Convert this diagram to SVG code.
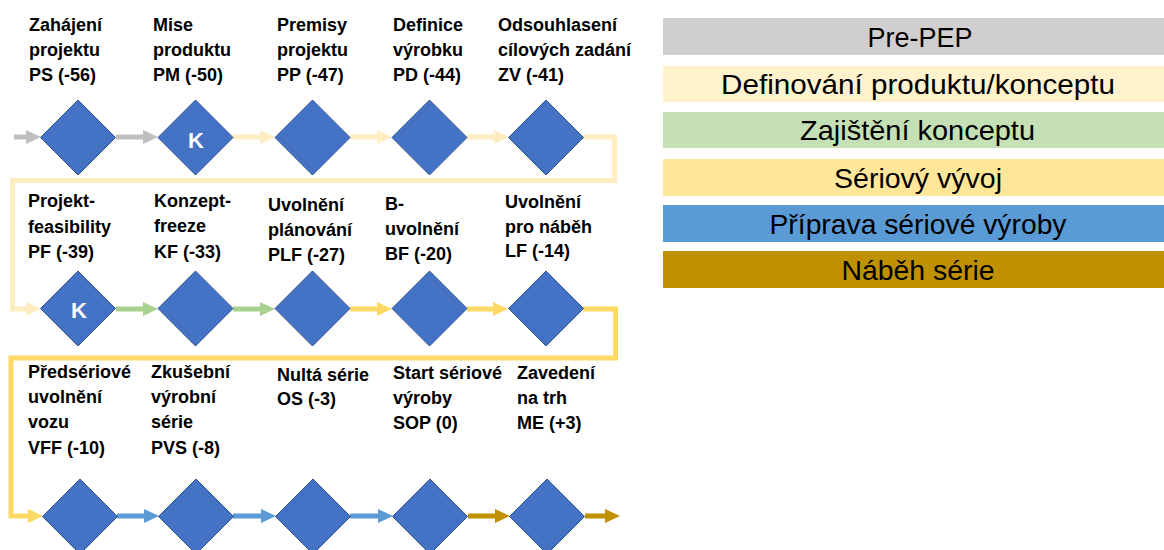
<svg xmlns="http://www.w3.org/2000/svg" width="1164" height="550" viewBox="0 0 1164 550">
<style>
.d{fill:#4472C4;stroke:#2F528F;stroke-width:1}
.lb{font-family:"Liberation Sans",Arial,sans-serif;font-weight:bold;font-size:18px;fill:#000}
.k{font-family:"Liberation Sans",Arial,sans-serif;font-weight:bold;font-size:22px;fill:#fff;text-anchor:middle}
.c{fill:none;stroke-width:5;stroke-linejoin:miter}
.lg{font-family:"Liberation Sans",Arial,sans-serif;font-size:28px;fill:#000;text-anchor:middle}
</style>
<defs>
<marker id="mGray" viewBox="0 0 15 14" refX="7" refY="7" markerWidth="15" markerHeight="14" markerUnits="userSpaceOnUse" orient="auto"><path d="M0,0 L15,7 L0,14 z" fill="#BFBFBF"/></marker>
<marker id="mLy" viewBox="0 0 15 14" refX="7" refY="7" markerWidth="15" markerHeight="14" markerUnits="userSpaceOnUse" orient="auto"><path d="M0,0 L15,7 L0,14 z" fill="#FFEDC2"/></marker>
<marker id="mGreen" viewBox="0 0 15 14" refX="7" refY="7" markerWidth="15" markerHeight="14" markerUnits="userSpaceOnUse" orient="auto"><path d="M0,0 L15,7 L0,14 z" fill="#A9D18E"/></marker>
<marker id="mYel" viewBox="0 0 15 14" refX="7" refY="7" markerWidth="15" markerHeight="14" markerUnits="userSpaceOnUse" orient="auto"><path d="M0,0 L15,7 L0,14 z" fill="#FFD966"/></marker>
<marker id="mBlue" viewBox="0 0 15 14" refX="7" refY="7" markerWidth="15" markerHeight="14" markerUnits="userSpaceOnUse" orient="auto"><path d="M0,0 L15,7 L0,14 z" fill="#5B9BD5"/></marker>
<marker id="mGold" viewBox="0 0 15 14" refX="7" refY="7" markerWidth="15" markerHeight="14" markerUnits="userSpaceOnUse" orient="auto"><path d="M0,0 L15,7 L0,14 z" fill="#BF9000"/></marker>
</defs>
<rect width="1164" height="550" fill="#fff"/>

<g id="connectors">
<path class="c" stroke="#BFBFBF" marker-end="url(#mGray)" d="M14,137 H33"/>
<path class="c" stroke="#BFBFBF" marker-end="url(#mGray)" d="M116,137 H150"/>
<path class="c" stroke="#FFEDC2" marker-end="url(#mLy)" d="M233,137 H267"/>
<path class="c" stroke="#FFEDC2" marker-end="url(#mLy)" d="M350,137 H384"/>
<path class="c" stroke="#FFEDC2" marker-end="url(#mLy)" d="M467,137 H501"/>
<path class="c" stroke="#FFEDC2" marker-end="url(#mLy)" d="M583,137 H614.5 V180.5 H12.5 V309 H33"/>
<path class="c" stroke="#A9D18E" marker-end="url(#mGreen)" d="M116,309 H150"/>
<path class="c" stroke="#A9D18E" marker-end="url(#mGreen)" d="M233,309 H267"/>
<path class="c" stroke="#FFD966" marker-end="url(#mYel)" d="M350,309 H384"/>
<path class="c" stroke="#FFD966" marker-end="url(#mYel)" d="M467,309 H500"/>
<path class="c" stroke="#FFD966" marker-end="url(#mYel)" d="M583,309 H615.5 V358 H11 V516 H35"/>
<path class="c" stroke="#5B9BD5" marker-end="url(#mBlue)" d="M117,516 H151"/>
<path class="c" stroke="#5B9BD5" marker-end="url(#mBlue)" d="M233,516 H268"/>
<path class="c" stroke="#5B9BD5" marker-end="url(#mBlue)" d="M350,516 H385"/>
<path class="c" stroke="#BF9000" marker-end="url(#mGold)" d="M468,516 H502"/>
<path class="c" stroke="#BF9000" marker-end="url(#mGold)" d="M585,516 H612"/>
</g>

<g id="ps"><path class="d" d="M78,100 L115.5,137.5 L78,175 L40.5,137.5 z"/>
<text class="lb" x="29"><tspan x="29" y="31">Zahájení</tspan><tspan x="29" y="56">projektu</tspan><tspan x="29" y="81">PS (-56)</tspan></text></g>
<g id="pm"><path class="d" d="M195.5,100 L233,137.5 L195.5,175 L158,137.5 z"/>
<text class="k" x="196" y="148">K</text>
<text class="lb"><tspan x="153" y="31">Mise</tspan><tspan x="153" y="56">produktu</tspan><tspan x="153" y="81">PM (-50)</tspan></text></g>
<g id="pp"><path class="d" d="M312.5,100 L350,137.5 L312.5,175 L275,137.5 z"/>
<text class="lb"><tspan x="277" y="31">Premisy</tspan><tspan x="277" y="56">projektu</tspan><tspan x="277" y="81">PP (-47)</tspan></text></g>
<g id="pd"><path class="d" d="M429.5,100 L467,137.5 L429.5,175 L392,137.5 z"/>
<text class="lb"><tspan x="393" y="31">Definice</tspan><tspan x="393" y="56">výrobku</tspan><tspan x="393" y="81">PD (-44)</tspan></text></g>
<g id="zv"><path class="d" d="M546,100 L583.5,137.5 L546,175 L508.5,137.5 z"/>
<text class="lb"><tspan x="498" y="31">Odsouhlasení</tspan><tspan x="498" y="56">cílových zadání</tspan><tspan x="498" y="81">ZV (-41)</tspan></text></g>

<g id="pf"><path class="d" d="M78,271 L115.5,308.5 L78,346 L40.5,308.5 z"/>
<text class="k" x="79" y="318">K</text>
<text class="lb"><tspan x="28" y="207">Projekt-</tspan><tspan x="28" y="233">feasibility</tspan><tspan x="28" y="258">PF (-39)</tspan></text></g>
<g id="kf"><path class="d" d="M195.5,271 L233,308.5 L195.5,346 L158,308.5 z"/>
<text class="lb"><tspan x="154" y="207">Konzept-</tspan><tspan x="154" y="232">freeze</tspan><tspan x="154" y="258">KF (-33)</tspan></text></g>
<g id="plf"><path class="d" d="M312.5,271 L350,308.5 L312.5,346 L275,308.5 z"/>
<text class="lb"><tspan x="268" y="211">Uvolnění</tspan><tspan x="268" y="236">plánování</tspan><tspan x="268" y="261">PLF (-27)</tspan></text></g>
<g id="bf"><path class="d" d="M429.5,271 L467,308.5 L429.5,346 L392,308.5 z"/>
<text class="lb"><tspan x="385" y="210">B-</tspan><tspan x="385" y="235">uvolnění</tspan><tspan x="385" y="260">BF (-20)</tspan></text></g>
<g id="lf"><path class="d" d="M546,271 L583.5,308.5 L546,346 L508.5,308.5 z"/>
<text class="lb"><tspan x="505" y="208">Uvolnění</tspan><tspan x="505" y="233">pro náběh</tspan><tspan x="505" y="257">LF (-14)</tspan></text></g>

<g id="vff"><path class="d" d="M80,479 L117.5,516.5 L80,554 L42.5,516.5 z"/>
<text class="lb"><tspan x="28" y="378">Předsériové</tspan><tspan x="28" y="403">uvolnění</tspan><tspan x="28" y="428">vozu</tspan><tspan x="28" y="454">VFF (-10)</tspan></text></g>
<g id="pvs"><path class="d" d="M196,479 L233.5,516.5 L196,554 L158.5,516.5 z"/>
<text class="lb"><tspan x="151" y="378">Zkušební</tspan><tspan x="151" y="403">výrobní</tspan><tspan x="151" y="428">série</tspan><tspan x="151" y="454">PVS (-8)</tspan></text></g>
<g id="os"><path class="d" d="M313,479 L350.5,516.5 L313,554 L275.5,516.5 z"/>
<text class="lb"><tspan x="277" y="381">Nultá série</tspan><tspan x="277" y="405">OS (-3)</tspan></text></g>
<g id="sop"><path class="d" d="M430,479 L467.5,516.5 L430,554 L392.5,516.5 z"/>
<text class="lb"><tspan x="393" y="379">Start sériové</tspan><tspan x="393" y="404">výroby</tspan><tspan x="393" y="429">SOP (0)</tspan></text></g>
<g id="me"><path class="d" d="M547,479 L584.5,516.5 L547,554 L509.5,516.5 z"/>
<text class="lb"><tspan x="517" y="379">Zavedení</tspan><tspan x="517" y="404">na trh</tspan><tspan x="517" y="429">ME (+3)</tspan></text></g>

<g id="legend">
<g id="leg-prepep"><rect x="663" y="18" width="501" height="37" fill="#D0CECE"/><text class="lg" x="920" y="46.5" textLength="105" lengthAdjust="spacingAndGlyphs">Pre-PEP</text></g>
<g id="leg-def"><rect x="663" y="66" width="501" height="36" fill="#FFF2CC"/><text class="lg" x="918" y="94" textLength="394" lengthAdjust="spacingAndGlyphs">Definování produktu/konceptu</text></g>
<g id="leg-zaj"><rect x="663" y="112" width="501" height="36" fill="#C5E0B4"/><text class="lg" x="917.5" y="140" textLength="235" lengthAdjust="spacingAndGlyphs">Zajištění konceptu</text></g>
<g id="leg-ser"><rect x="663" y="159" width="501" height="37" fill="#FFE699"/><text class="lg" x="918" y="187.5" textLength="168" lengthAdjust="spacingAndGlyphs">Sériový vývoj</text></g>
<g id="leg-pri"><rect x="663" y="205" width="501" height="37" fill="#5B9BD5"/><text class="lg" x="918" y="233.5" textLength="297" lengthAdjust="spacingAndGlyphs">Příprava sériové výroby</text></g>
<g id="leg-nab"><rect x="663" y="251" width="501" height="37" fill="#BF9000"/><text class="lg" x="918" y="279.5" textLength="153" lengthAdjust="spacingAndGlyphs">Náběh série</text></g>
</g>
</svg>
